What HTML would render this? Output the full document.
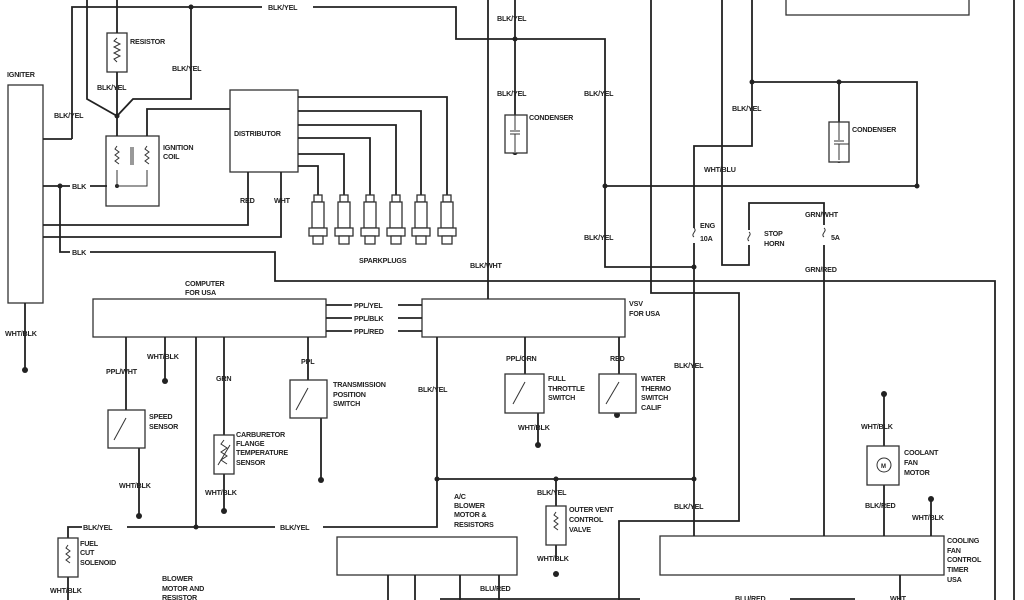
<!DOCTYPE html>
<html><head><meta charset="utf-8"><style>
html,body{margin:0;padding:0;background:#fff;width:1024px;height:600px;overflow:hidden}
svg{display:block}
text{font-family:"Liberation Sans",sans-serif;font-size:7.2px;font-weight:bold;fill:#222;letter-spacing:-0.2px}
.l{stroke:#222;stroke-width:1.8;fill:none}
.b{stroke:#333;stroke-width:1.3;fill:#fff}
.t{stroke:#333;stroke-width:1;fill:none}
</style></head><body>
<svg width="1024" height="600" viewBox="0 0 1024 600">
<rect class="b" x="8" y="85" width="35" height="218"/>
<rect class="b" x="786" y="-5" width="183" height="20"/>
<rect class="b" x="93" y="299" width="233" height="38"/>
<rect class="b" x="422" y="299" width="203" height="38"/>
<rect class="b" x="337" y="537" width="180" height="38"/>
<rect class="b" x="660" y="536" width="284" height="39"/>
<rect class="b" x="230" y="90" width="68" height="82"/>
<rect class="b" x="106" y="136" width="53" height="70"/>
<rect class="b" x="107" y="33" width="20" height="39"/>

<g class="l">
<path d="M87 0V99L117 116"/>
<path d="M117 0V33M117 72V136"/>
<path d="M72 139V7H262M313 7H456V39H605V186"/>
<path d="M191 7V99H133L117 116"/>
<path d="M43 139H72"/>
<path d="M147 136V109H230"/>
<path d="M298 97H447V195M298 111H421V195M298 125H396V195M298 138H370V195M298 154H344V195M298 166H318V195"/>
<path d="M43 186H70M90 186H107M60 186V252H70M90 252H275V281H995V600"/>
<path d="M248 172V225H43M281 172V237H43"/>
<path d="M25 303V370"/>
<path d="M488 0V299"/>
<path d="M515 0V115M515 153V155"/>
<path d="M651 0V293H739V521H619V600"/>
<path d="M722 0V265H749V245M749 230V203H824V225M824 245V536"/>
<path d="M752 0V146H694V228M694 243V536"/>
<path d="M752 82H917V186H605"/>
<path d="M839 82V122"/>
<path d="M605 186V267H694"/>
<path d="M1014 0V600"/>
<path d="M326 305H352M398 305H422M326 318H352M398 318H422M326 331H352M398 331H422"/>
<path d="M126 337V410M165 337V380M196 337V527M224 337V435M224 474V511M308 337V380M139 428V516M321 410V480"/>
<path d="M68 538V527H82M127 527H275M323 527H437V337"/>
<path d="M437 479H694M556 479V506M556 545V560"/>
<path d="M525 337V374M538 410V445M619 337V374M617 410V415"/>
<path d="M884 393V446M884 485V536M931 498V536"/>
<path d="M68 577V600M388 575V600M415 575V600M460 575V600M499 575V600M900 575V600"/>
<path d="M440 599H640M790 599H855"/>
</g>
<g fill="#222">
<circle cx="191" cy="7" r="2.5"/><circle cx="117" cy="116" r="2.5"/><circle cx="60" cy="186" r="2.5"/><circle cx="117" cy="186" r="2"/>
<circle cx="515" cy="39" r="2.5"/><circle cx="752" cy="82" r="2.5"/><circle cx="839" cy="82" r="2.5"/><circle cx="917" cy="186" r="2.5"/><circle cx="605" cy="186" r="2.5"/><circle cx="694" cy="267" r="2.5"/>
<circle cx="196" cy="527" r="2.5"/><circle cx="437" cy="479" r="2.5"/><circle cx="556" cy="479" r="2.5"/><circle cx="694" cy="479" r="2.5"/>
<circle cx="25" cy="370" r="3"/><circle cx="165" cy="381" r="3"/><circle cx="139" cy="516" r="3"/><circle cx="224" cy="511" r="3"/><circle cx="321" cy="480" r="3"/><circle cx="538" cy="445" r="3"/><circle cx="617" cy="415" r="3"/><circle cx="556" cy="574" r="3"/><circle cx="884" cy="394" r="3"/><circle cx="931" cy="499" r="3"/><circle cx="515" cy="152" r="3"/><circle cx="839" cy="160" r="3"/>
</g>
<path class="t" d="M117 38l-3 3 6 3-6 3 6 3-6 3 6 3-6 3 3 3M117 146l-2 3 4 3-4 3 4 3-4 3 4 3M147 146l-2 3 4 3-4 3 4 3-4 3 4 3M117 170V186H147V170M131 147V165M133 147V165"/>
<rect class="b" x="505" y="115" width="22" height="38"/><path class="t" d="M515 115V130M510 131H520M510 134H520M515 134V152"/>
<rect class="b" x="829" y="122" width="20" height="40"/><path class="t" d="M839 122V140M834 141H844M834 144H849M839 144V160"/>
<g class="b">
<rect x="314" y="195" width="8" height="7"/><rect x="312" y="202" width="12" height="26"/><rect x="309" y="228" width="18" height="8"/><rect x="313" y="236" width="10" height="8"/>
<rect x="340" y="195" width="8" height="7"/><rect x="338" y="202" width="12" height="26"/><rect x="335" y="228" width="18" height="8"/><rect x="339" y="236" width="10" height="8"/>
<rect x="366" y="195" width="8" height="7"/><rect x="364" y="202" width="12" height="26"/><rect x="361" y="228" width="18" height="8"/><rect x="365" y="236" width="10" height="8"/>
<rect x="392" y="195" width="8" height="7"/><rect x="390" y="202" width="12" height="26"/><rect x="387" y="228" width="18" height="8"/><rect x="391" y="236" width="10" height="8"/>
<rect x="417" y="195" width="8" height="7"/><rect x="415" y="202" width="12" height="26"/><rect x="412" y="228" width="18" height="8"/><rect x="416" y="236" width="10" height="8"/>
<rect x="443" y="195" width="8" height="7"/><rect x="441" y="202" width="12" height="26"/><rect x="438" y="228" width="18" height="8"/><rect x="442" y="236" width="10" height="8"/>
</g>
<rect class="b" x="108" y="410" width="37" height="38"/><path class="t" d="M126 418L114 440"/>
<rect class="b" x="290" y="380" width="37" height="38"/><path class="t" d="M308 388L296 410"/>
<rect class="b" x="505" y="374" width="39" height="39"/><path class="t" d="M525 382L513 404"/>
<rect class="b" x="599" y="374" width="37" height="39"/><path class="t" d="M619 382L606 404"/>
<rect class="b" x="214" y="435" width="20" height="39"/><path class="t" d="M224 440l-3 4 6 4-6 4 6 4-6 4 6 4M218 465L230 445"/>
<rect class="b" x="58" y="538" width="20" height="39"/><path class="t" d="M68 545l-2 3 4 3-4 3 4 3-4 3 4 3"/>
<rect class="b" x="546" y="506" width="20" height="39"/><path class="t" d="M556 512l-2 3 4 3-4 3 4 3-4 3 4 3"/>
<rect class="b" x="867" y="446" width="32" height="39"/><circle class="t" cx="884" cy="465" r="7"/><text x="881" y="468" style="font-size:6px">M</text>
<path class="t" d="M694 228c4 3-4 6 0 9M749 232c4 3-4 6 0 9M824 228c4 3-4 6 0 9" stroke-width="1.5"/>
<text x="7" y="77">IGNITER</text>
<text x="130" y="44">RESISTOR</text>
<text x="97" y="90">BLK/YEL</text>
<text x="172" y="71">BLK/YEL</text>
<text x="54" y="118">BLK/YEL</text>
<text x="268" y="10">BLK/YEL</text>
<text x="163" y="150">IGNITION</text><text x="163" y="159">COIL</text>
<text x="234" y="136">DISTRIBUTOR</text>
<text x="72" y="189">BLK</text><text x="72" y="255">BLK</text>
<text x="240" y="203">RED</text><text x="274" y="203">WHT</text>
<text x="359" y="263">SPARKPLUGS</text>
<text x="470" y="268">BLK/WHT</text>
<text x="185" y="286">COMPUTER</text><text x="185" y="295">FOR USA</text>
<text x="5" y="336">WHT/BLK</text>
<text x="497" y="21">BLK/YEL</text><text x="497" y="96">BLK/YEL</text>
<text x="529" y="120">CONDENSER</text>
<text x="584" y="96">BLK/YEL</text><text x="584" y="240">BLK/YEL</text>
<text x="732" y="111">BLK/YEL</text>
<text x="852" y="132">CONDENSER</text>
<text x="704" y="172">WHT/BLU</text>
<text x="700" y="228">ENG</text><text x="700" y="241">10A</text>
<text x="764" y="236">STOP</text><text x="764" y="246">HORN</text>
<text x="805" y="217">GRN/WHT</text><text x="831" y="240">5A</text><text x="805" y="272">GRN/RED</text>
<text x="354" y="308">PPL/YEL</text><text x="354" y="321">PPL/BLK</text><text x="354" y="334">PPL/RED</text>
<text x="629" y="306">VSV</text><text x="629" y="316">FOR USA</text>
<text x="106" y="374">PPL/WHT</text><text x="147" y="359">WHT/BLK</text>
<text x="216" y="381">GRN</text><text x="301" y="364">PPL</text>
<text x="333" y="387">TRANSMISSION</text><text x="333" y="397">POSITION</text><text x="333" y="406">SWITCH</text>
<text x="149" y="419">SPEED</text><text x="149" y="429">SENSOR</text>
<text x="236" y="437">CARBURETOR</text><text x="236" y="446">FLANGE</text><text x="236" y="455">TEMPERATURE</text><text x="236" y="465">SENSOR</text>
<text x="119" y="488">WHT/BLK</text><text x="205" y="495">WHT/BLK</text>
<text x="418" y="392">BLK/YEL</text>
<text x="83" y="530">BLK/YEL</text><text x="280" y="530">BLK/YEL</text>
<text x="80" y="546">FUEL</text><text x="80" y="555">CUT</text><text x="80" y="565">SOLENOID</text>
<text x="50" y="593">WHT/BLK</text>
<text x="162" y="581">BLOWER</text><text x="162" y="591">MOTOR AND</text><text x="162" y="600">RESISTOR</text>
<text x="454" y="499">A/C</text><text x="454" y="508">BLOWER</text><text x="454" y="517">MOTOR &amp;</text><text x="454" y="527">RESISTORS</text>
<text x="480" y="591">BLU/RED</text>
<text x="735" y="601">BLU/RED</text><text x="890" y="601">WHT</text>
<text x="506" y="361">PPL/ORN</text><text x="610" y="361">RED</text>
<text x="548" y="381">FULL</text><text x="548" y="391">THROTTLE</text><text x="548" y="400">SWITCH</text>
<text x="641" y="381">WATER</text><text x="641" y="391">THERMO</text><text x="641" y="400">SWITCH</text><text x="641" y="410">CALIF</text>
<text x="518" y="430">WHT/BLK</text>
<text x="674" y="368">BLK/YEL</text><text x="674" y="509">BLK/YEL</text>
<text x="537" y="495">BLK/YEL</text>
<text x="569" y="512">OUTER VENT</text><text x="569" y="522">CONTROL</text><text x="569" y="532">VALVE</text>
<text x="537" y="561">WHT/BLK</text>
<text x="861" y="429">WHT/BLK</text>
<text x="904" y="455">COOLANT</text><text x="904" y="465">FAN</text><text x="904" y="475">MOTOR</text>
<text x="865" y="508">BLK/RED</text><text x="912" y="520">WHT/BLK</text>
<text x="947" y="543">COOLING</text><text x="947" y="553">FAN</text><text x="947" y="562">CONTROL</text><text x="947" y="572">TIMER</text><text x="947" y="582">USA</text>
</svg>
</body></html>
